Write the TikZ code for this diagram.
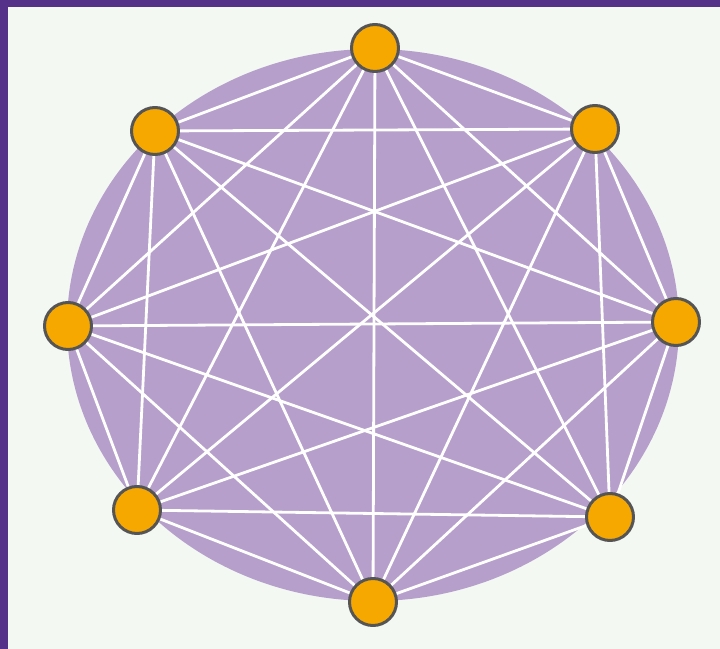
\documentclass[tikz,border=0pt]{standalone}
\usepackage{tikz}
\definecolor{frame}{HTML}{56318A}
\definecolor{paper}{HTML}{F4F8F3}
\definecolor{lilac}{HTML}{B6A0CB}
\definecolor{amber}{HTML}{F6A800}
\definecolor{rim}{HTML}{555555}
\pgfdeclarelayer{back}
\pgfdeclarelayer{links}
\pgfsetlayers{back,links,main}
\tikzset{
  vertex/.style={circle, fill=amber, draw=rim, line width=1.5pt, minimum size=23.5pt, inner sep=0pt},
  link/.style={white, line width=1.4pt}
}
\begin{document}
\begin{tikzpicture}[x=0.5pt, y=-0.5pt, line join=round]
\useasboundingbox (0,0) rectangle (720,649);
\node[vertex] (n1) at (375,48) {};
\node[vertex] (n2) at (595,129) {};
\node[vertex] (n3) at (676,322) {};
\node[vertex] (n4) at (610,517) {};
\node[vertex] (n5) at (373,602) {};
\node[vertex] (n6) at (137,510) {};
\node[vertex] (n7) at (68,326) {};
\node[vertex] (n8) at (155,131) {};
\begin{pgfonlayer}{back}
\fill[frame] (0,0) rectangle (720,649);
\fill[paper] (8,7) rectangle (720,649);
\fill[lilac] (373,325) ellipse [x radius=306, y radius=276];
\end{pgfonlayer}
% every pair of vertices
\begin{pgfonlayer}{links}
\foreach \i in {1,...,7}{
  \pgfmathtruncatemacro{\k}{\i+1}
  \foreach \j in {\k,...,8}
    \draw[link] (n\i.center) -- (n\j.center);
}
\end{pgfonlayer}
\end{tikzpicture}
\end{document}
